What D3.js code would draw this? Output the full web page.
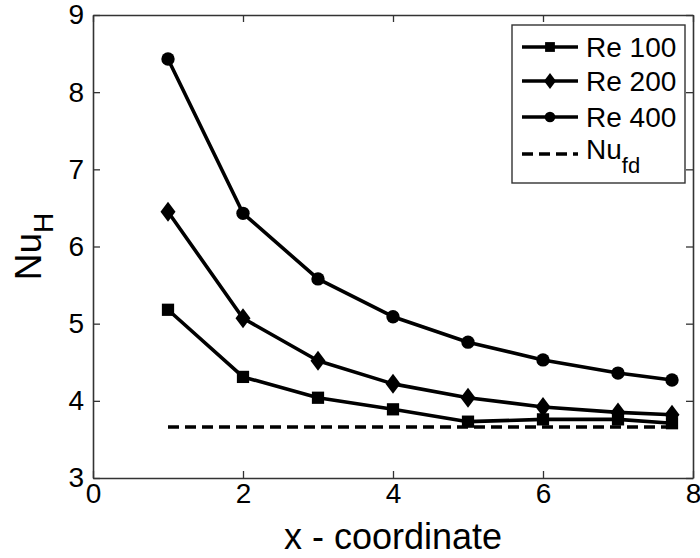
<!DOCTYPE html>
<html>
<head>
<meta charset="utf-8">
<script src="https://cdn.jsdelivr.net/npm/d3@7"></script>
<style>
  html, body { margin: 0; padding: 0; background: #fff; }
  svg text { font-family: "Liberation Sans", Arial, sans-serif; fill: #000; }
</style>
</head>
<body>
<svg id="chart" width="700" height="558"></svg>
<script>
// ---- data ----
const xValues = [1, 2, 3, 4, 5, 6, 7, 7.72];
const re100 = [5.18, 4.31, 4.04, 3.89, 3.73, 3.76, 3.76, 3.71];
const re200 = [6.45, 5.07, 4.52, 4.22, 4.04, 3.92, 3.85, 3.82];
const re400 = [8.43, 6.43, 5.58, 5.09, 4.76, 4.53, 4.36, 4.27];
const nuFdX = [1, 7.75];
const nuFdValue = 3.66;
const seriesNames = ["Re 100", "Re 200", "Re 400"];
const seriesSymbols = ["square", "diamond", "circle"];
const xTicks = [0, 2, 4, 6, 8];
const yTicks = [3, 4, 5, 6, 7, 8, 9];
const xDomain = [0, 8];
const yDomain = [3, 9];

// ---- layout ----
const svg = d3.select("#chart");
const margin = { left: 93, right: 7, top: 15, bottom: 80 };
const W = 700, H = 558;
const x = d3.scaleLinear().domain(xDomain).range([margin.left, W - margin.right]);
const y = d3.scaleLinear().domain(yDomain).range([H - margin.bottom, margin.top]);
const axisColor = "#333";
const tickFont = 28;
const fmt = d3.format("d");

// axes box
const g = svg.append("g");
const bottomAxis = g.append("g").attr("transform", `translate(0,${y(3)})`)
  .call(d3.axisBottom(x).tickValues(xTicks).tickFormat(fmt).tickSizeInner(-7).tickSizeOuter(0).tickPadding(8));
const topAxis = g.append("g").attr("transform", `translate(0,${y(9)})`)
  .call(d3.axisTop(x).tickValues(xTicks).tickSizeInner(-7).tickSizeOuter(0).tickFormat(""));
const leftAxis = g.append("g").attr("transform", `translate(${x(0)},0)`)
  .call(d3.axisLeft(y).tickValues(yTicks).tickFormat(fmt).tickSizeInner(-7).tickSizeOuter(0).tickPadding(8));
const rightAxis = g.append("g").attr("transform", `translate(${x(8)},0)`)
  .call(d3.axisRight(y).tickValues(yTicks).tickSizeInner(-7).tickSizeOuter(0).tickFormat(""));
[bottomAxis, topAxis, leftAxis, rightAxis].forEach(a => {
  a.select(".domain").attr("stroke", axisColor).attr("stroke-width", 1.6);
  a.selectAll(".tick line").attr("stroke", axisColor).attr("stroke-width", 1.3);
  a.selectAll("text").style("font-size", tickFont + "px").attr("fill", "#000")
    .style("font-family", "'Liberation Sans', Arial, sans-serif");
});
bottomAxis.selectAll("text").attr("dy", "0.62em");
leftAxis.selectAll("text").attr("dx", "-1");

// ---- series ----
function drawMarker(sel, type, cx, cy, s) {
  s = s || 1;
  if (type === "diamond") {
    sel.append("path")
      .attr("d", `M${cx},${cy - 10 * s} L${cx + 7.5 * s},${cy} L${cx},${cy + 10 * s} L${cx - 7.5 * s},${cy} Z`)
      .attr("fill", "#000");
  } else {
    const sym = type === "square" ? d3.symbolSquare : d3.symbolCircle;
    const size = (type === "square" ? 150 : 140) * s * s;
    sel.append("path")
      .attr("d", d3.symbol().type(sym).size(size)())
      .attr("transform", `translate(${cx},${cy})`)
      .attr("fill", "#000");
  }
}

const line = d3.line().x(d => x(d[0])).y(d => y(d[1]));
const allSeries = [re100, re200, re400];
allSeries.forEach((vals, i) => {
  const pts = xValues.map((xv, j) => [xv, vals[j]]);
  g.append("path").datum(pts).attr("d", line)
    .attr("fill", "none").attr("stroke", "#000").attr("stroke-width", 3.6)
    .attr("stroke-linejoin", "round");
});
// Nu_fd dashed
g.append("path").datum(nuFdX.map(v => [v, nuFdValue])).attr("d", line)
  .attr("fill", "none").attr("stroke", "#000").attr("stroke-width", 3.4)
  .attr("stroke-dasharray", "11,6");
allSeries.forEach((vals, i) => {
  const mg = g.append("g");
  xValues.forEach((xv, j) => drawMarker(mg, seriesSymbols[i], x(xv), y(vals[j])));
});

// ---- legend ----
const lg = svg.append("g");
lg.append("rect").attr("x", 512).attr("y", 25).attr("width", 173).attr("height", 158)
  .attr("fill", "#fff").attr("stroke", axisColor).attr("stroke-width", 1.4);
const rowY = [47, 81, 117, 154];
seriesNames.forEach((name, i) => {
  lg.append("line").attr("x1", 522).attr("x2", 578).attr("y1", rowY[i]).attr("y2", rowY[i])
    .attr("stroke", "#000").attr("stroke-width", 3.6);
  drawMarker(lg, seriesSymbols[i], 550, rowY[i], 0.8);
  lg.append("text").attr("x", 586).attr("y", rowY[i] + 9.5)
    .style("font-size", "28px").text(name);
});
lg.append("line").attr("x1", 522).attr("x2", 578).attr("y1", rowY[3]).attr("y2", rowY[3])
  .attr("stroke", "#000").attr("stroke-width", 3.4).attr("stroke-dasharray", "11,6");
const nuT = lg.append("text").attr("x", 586).attr("y", rowY[3] + 5).style("font-size", "28px");
nuT.append("tspan").text("Nu");
nuT.append("tspan").attr("dy", 14).style("font-size", "22px").text("fd");

// ---- axis titles ----
svg.append("text").attr("x", (x(0) + x(8)) / 2).attr("y", 549)
  .attr("text-anchor", "middle").style("font-size", "36px").text("x - coordinate");
const yt = svg.append("text")
  .attr("transform", `translate(41,${(y(3) + y(9)) / 2}) rotate(-90)`)
  .attr("text-anchor", "middle").style("font-size", "37px");
yt.append("tspan").text("Nu");
yt.append("tspan").attr("dy", 12).style("font-size", "28px").text("H");
</script>
</body>
</html>
